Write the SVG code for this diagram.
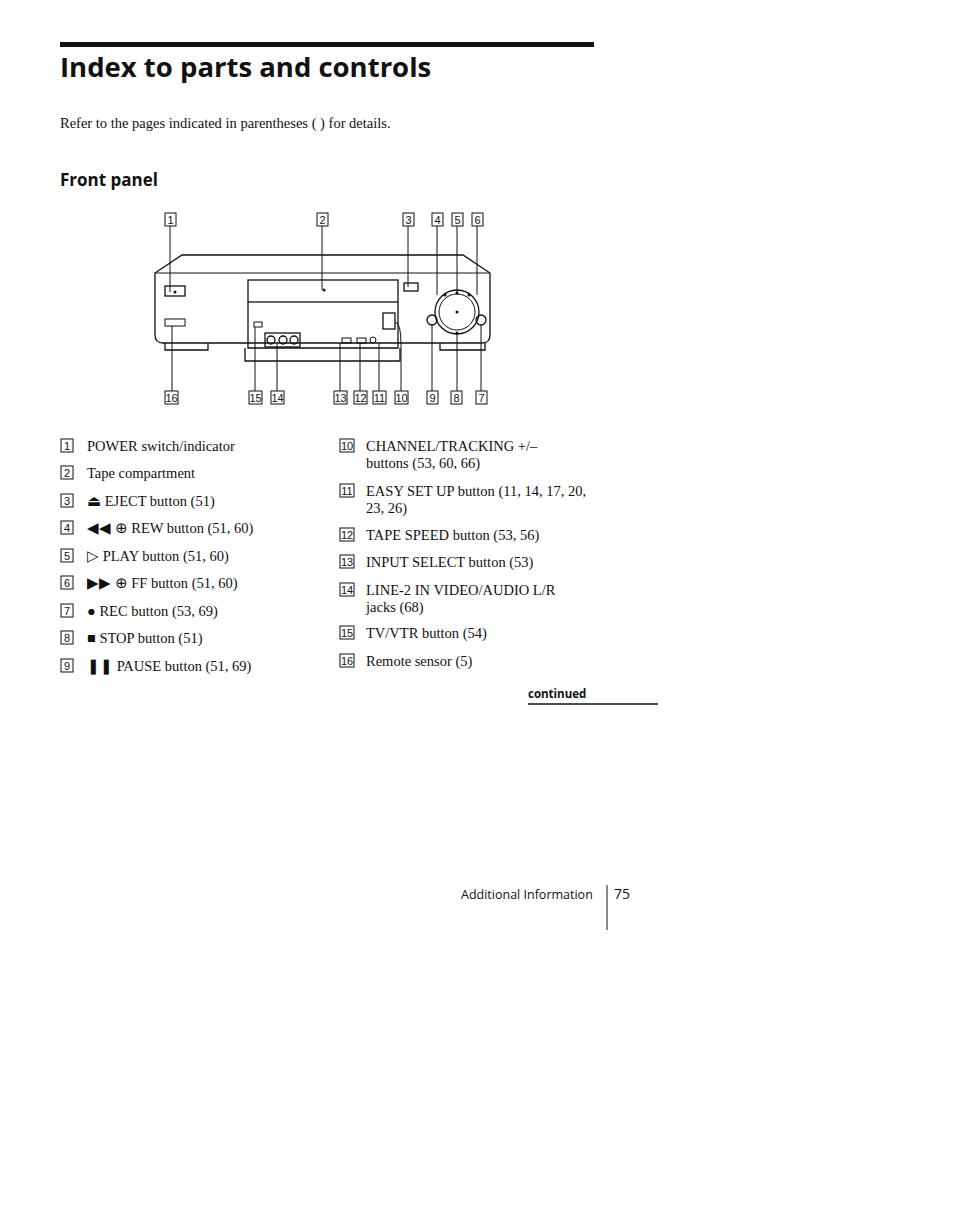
<svg xmlns="http://www.w3.org/2000/svg" width="954" height="1227" viewBox="0 0 954 1227">
<style>
.t{font-family:"Liberation Serif",serif;font-size:14.5px;fill:#111}
.n{font-family:"Liberation Sans",sans-serif;font-size:11px;fill:#111;text-anchor:middle}
.b{fill:#fff;stroke:#111;stroke-width:1}
.l{stroke:#111;stroke-width:1;fill:none}
.d{stroke:#111;stroke-width:1.3;fill:none}
</style>
<rect width="954" height="1227" fill="#fff"/>
<rect x="60" y="42" width="534" height="5" fill="#111"/>
<text x="60" y="77" font-family="Open Sans,Liberation Sans,sans-serif" font-weight="bold" font-size="27.5" fill="#111">Index to parts and controls</text>
<text x="60" y="128" class="t" font-size="14.5px">Refer to the pages indicated in parentheses ( ) for details.</text>
<text x="60" y="186" font-family="Open Sans,Liberation Sans,sans-serif" font-weight="bold" font-size="17" fill="#111">Front panel</text>
<g id="vcr">
<path class="d" d="M182,255 L463,255 L490,273 L490,335 Q490,343 482,343 L163,343 Q155,343 155,335 L155,273 Z"/>
<line class="l" x1="155" y1="273" x2="490" y2="273"/>
<path class="d" d="M165,343 L165,350 L208,350 L208,343 M440,343 L440,350 L485,350 L485,343"/>
<rect class="d" x="248" y="280" width="150" height="22"/>
<circle cx="324" cy="290" r="1.5" fill="#111"/>
<path class="d" d="M248,302 L248,348 L398,348 L398,302 M245,348 L245,361 L400,361 L400,348"/>
<rect x="165" y="286" width="20" height="10" class="d"/><circle cx="175" cy="292" r="1.5" fill="#111"/>
<rect x="165" y="319" width="20" height="7" class="l"/>
<rect x="404" y="283" width="14" height="8" class="d"/>
<circle class="d" cx="457" cy="312" r="22"/><circle class="l" cx="457" cy="312" r="18"/>
<circle cx="445" cy="295" r="1.5" fill="#111"/><circle cx="457" cy="293" r="1.5" fill="#111"/><circle cx="469" cy="295" r="1.5" fill="#111"/><circle cx="457" cy="312" r="1.5" fill="#111"/><circle cx="457" cy="333" r="1.5" fill="#111"/>
<circle class="d" cx="432" cy="320" r="5"/><circle class="d" cx="481" cy="320" r="5"/>
<rect class="d" x="383" y="313" width="12" height="16"/>
<rect class="l" x="254" y="322" width="8" height="5"/>
<rect class="d" x="265" y="333" width="35" height="14"/>
<circle class="d" cx="271" cy="340" r="4"/><circle class="d" cx="283" cy="340" r="4"/><circle class="d" cx="294" cy="340" r="4"/>
<rect class="l" x="342" y="338" width="9" height="5"/><rect class="l" x="357" y="338" width="9" height="5"/><circle class="l" cx="373" cy="340" r="3"/>
</g>
<g id="connectors" class="l">
<path d="M170,226 V292 M322,226 V290 M408,226 V287 M437,226 V295 M457,226 V293 M477,226 V295"/>
<path d="M172,391 V326 M255,391 V327 M277,391 V344 M340,391 V343 M360,391 V343 M379,391 V343 M401,391 V345 Q401,322 395,322 M432,391 V325 M457,391 V333 M481,391 V325"/>
</g>
<g id="labels">
<rect class="b" x="165" y="213" width="11" height="13"/><text class="n" x="170.5" y="224">1</text>
<rect class="b" x="317" y="213" width="11" height="13"/><text class="n" x="322.5" y="224">2</text>
<rect class="b" x="403" y="213" width="11" height="13"/><text class="n" x="408.5" y="224">3</text>
<rect class="b" x="432" y="213" width="11" height="13"/><text class="n" x="437.5" y="224">4</text>
<rect class="b" x="452" y="213" width="11" height="13"/><text class="n" x="457.5" y="224">5</text>
<rect class="b" x="472" y="213" width="11" height="13"/><text class="n" x="477.5" y="224">6</text>
<rect class="b" x="165" y="391" width="13" height="13"/><text class="n" x="171.5" y="402">16</text>
<rect class="b" x="249" y="391" width="13" height="13"/><text class="n" x="255.5" y="402">15</text>
<rect class="b" x="271" y="391" width="13" height="13"/><text class="n" x="277.5" y="402">14</text>
<rect class="b" x="334" y="391" width="13" height="13"/><text class="n" x="340.5" y="402">13</text>
<rect class="b" x="354" y="391" width="13" height="13"/><text class="n" x="360.5" y="402">12</text>
<rect class="b" x="373" y="391" width="13" height="13"/><text class="n" x="379.5" y="402">11</text>
<rect class="b" x="395" y="391" width="13" height="13"/><text class="n" x="401.5" y="402">10</text>
<rect class="b" x="427" y="391" width="11" height="13"/><text class="n" x="432.5" y="402">9</text>
<rect class="b" x="451" y="391" width="11" height="13"/><text class="n" x="456.5" y="402">8</text>
<rect class="b" x="476" y="391" width="11" height="13"/><text class="n" x="481.5" y="402">7</text>
</g>
<g id="list">
<rect class="b" x="61" y="439" width="12" height="13"/><text class="n" x="67" y="450">1</text><text class="t" x="87" y="451">POWER switch/indicator</text>
<rect class="b" x="61" y="466" width="12" height="13"/><text class="n" x="67" y="477">2</text><text class="t" x="87" y="478">Tape compartment</text>
<rect class="b" x="61" y="494" width="12" height="13"/><text class="n" x="67" y="505">3</text><text class="t" x="87" y="506">⏏ EJECT button (51)</text>
<rect class="b" x="61" y="521" width="12" height="13"/><text class="n" x="67" y="532">4</text><text class="t" x="87" y="533">◀◀ ⊕ REW button (51, 60)</text>
<rect class="b" x="61" y="549" width="12" height="13"/><text class="n" x="67" y="560">5</text><text class="t" x="87" y="561">▷ PLAY button (51, 60)</text>
<rect class="b" x="61" y="576" width="12" height="13"/><text class="n" x="67" y="587">6</text><text class="t" x="87" y="588">▶▶ ⊕ FF button (51, 60)</text>
<rect class="b" x="61" y="604" width="12" height="13"/><text class="n" x="67" y="615">7</text><text class="t" x="87" y="616">● REC button (53, 69)</text>
<rect class="b" x="61" y="631" width="12" height="13"/><text class="n" x="67" y="642">8</text><text class="t" x="87" y="643">■ STOP button (51)</text>
<rect class="b" x="61" y="659" width="12" height="13"/><text class="n" x="67" y="670">9</text><text class="t" x="87" y="671">❚❚ PAUSE button (51, 69)</text>
<rect class="b" x="340" y="439" width="14" height="13"/><text class="n" x="347" y="450">10</text><text class="t" x="366" y="451">CHANNEL/TRACKING +/–</text><text class="t" x="366" y="468">buttons (53, 60, 66)</text>
<rect class="b" x="340" y="484" width="14" height="13"/><text class="n" x="347" y="495">11</text><text class="t" x="366" y="496">EASY SET UP button (11, 14, 17, 20,</text><text class="t" x="366" y="513">23, 26)</text>
<rect class="b" x="340" y="528" width="14" height="13"/><text class="n" x="347" y="539">12</text><text class="t" x="366" y="540">TAPE SPEED button (53, 56)</text>
<rect class="b" x="340" y="555" width="14" height="13"/><text class="n" x="347" y="566">13</text><text class="t" x="366" y="567">INPUT SELECT button (53)</text>
<rect class="b" x="340" y="583" width="14" height="13"/><text class="n" x="347" y="594">14</text><text class="t" x="366" y="595">LINE-2 IN VIDEO/AUDIO L/R</text><text class="t" x="366" y="612">jacks (68)</text>
<rect class="b" x="340" y="626" width="14" height="13"/><text class="n" x="347" y="637">15</text><text class="t" x="366" y="638">TV/VTR button (54)</text>
<rect class="b" x="340" y="654" width="14" height="13"/><text class="n" x="347" y="665">16</text><text class="t" x="366" y="666">Remote sensor (5)</text>
</g>
<text x="528" y="698" font-family="Open Sans,Liberation Sans,sans-serif" font-weight="bold" font-size="11.5" fill="#111">continued</text>
<line x1="528" y1="704" x2="658" y2="704" stroke="#111" stroke-width="1.5"/>
<text x="461" y="899" font-family="Open Sans,Liberation Sans,sans-serif" font-size="12.5" fill="#111">Additional Information</text>
<line x1="607" y1="885" x2="607" y2="930" stroke="#111"/>
<text x="614" y="899" font-family="Open Sans,Liberation Sans,sans-serif" font-size="14" fill="#111">75</text>
</svg>
